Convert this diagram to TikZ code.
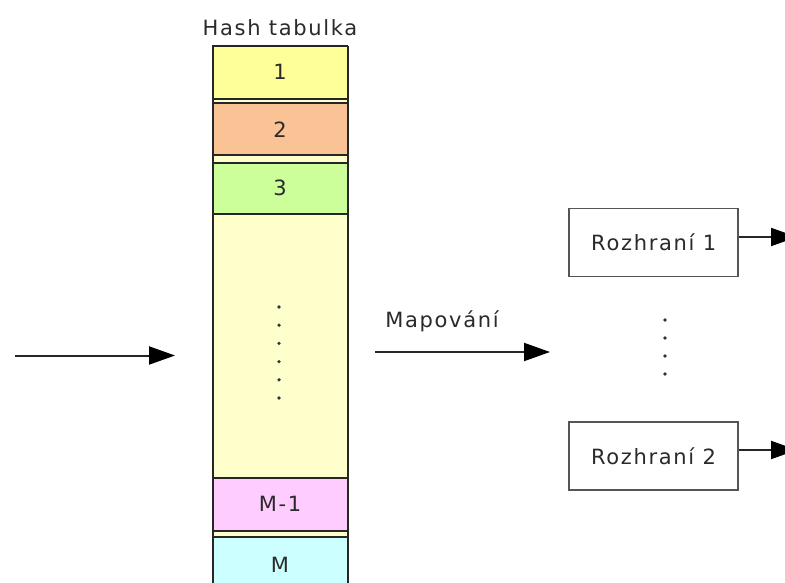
\documentclass[tikz,border=0pt]{standalone}
\usepackage{fontspec}
\setmainfont{DejaVu Sans}[LetterSpace=8]
\usetikzlibrary{arrows.meta}
\definecolor{cellA}{HTML}{FFFF99}
\definecolor{cellB}{HTML}{FAC396}
\definecolor{cellC}{HTML}{CCFF99}
\definecolor{cellMid}{HTML}{FFFFCC}
\definecolor{cellD}{HTML}{FFCCFF}
\definecolor{cellE}{HTML}{CCFFFF}
\definecolor{ink}{HTML}{2A2A2A}
\definecolor{frame}{HTML}{555555}
\tikzset{
  x=1pt, y=-1pt,
  lbl/.style={text=ink, font=\fontsize{21}{24}\selectfont},
  cell/.style={draw=black!85, line width=1.9pt, minimum width=135pt, inner sep=0pt, lbl},
  iface/.style={draw=frame, line width=1.9pt, fill=white, minimum width=169pt, minimum height=68pt, inner sep=0pt, lbl},
  flow/.style={draw=black!85, line width=2pt, -{Triangle[length=26pt,width=18pt,color=black]}},
  dot/.style={fill=black!80, circle, inner sep=0pt, minimum size=3.6pt},
}
\begin{document}
\begin{tikzpicture}
\clip (0,0) rectangle (785,583);
\fill[white] (0,0) rectangle (785,583);

% table column background (visible in the thin gaps between slots)
\fill[cellMid] (212.7,46) rectangle (347.7,600);

\node[lbl] (title) at (280,28) {Hash tabulka};

\node[cell, fill=cellA,   minimum height=52.7pt] (s1)  at (280,72.3)  {1};
\node[cell, fill=cellB,   minimum height=52pt]   (s2)  at (280,129.3) {2};
\node[cell, fill=cellC,   minimum height=51.3pt] (s3)  at (280,188.3) {3};
\node[cell, fill=cellMid, minimum height=264pt]  (mid) at (280,346)   {};
\node[cell, fill=cellD,   minimum height=52.7pt] (sm1) at (280,504.3) {M-1};
\node[cell, fill=cellE,   minimum height=56pt]   (sm)  at (280,565)   {M};
\draw[black!85, line width=1.9pt] (212.7,46) -- (212.7,600) (347.7,46) -- (347.7,600);

% ellipsis inside the table
\foreach \k in {0,...,5}
  \node[dot] (td\k) at (279,{307+18.2*\k}) {};

% incoming key
\coordinate (inA) at (15,355.5);
\coordinate (inB) at (175,355.5);
\draw[flow] (inA) -- (inB);

% mapping
\coordinate (mapA) at (375,352);
\coordinate (mapB) at (550,352);
\draw[flow] (mapA) -- (mapB);
\node[lbl, anchor=base] (maplbl) at (442,327) {Mapování};

% interfaces
\node[iface] (r1) at (653.7,242.5) {Rozhraní 1};
\node[iface] (r2) at (653.5,456)   {Rozhraní 2};
\foreach \k in {0,...,3}
  \node[dot] (rd\k) at (665,{320+18*\k}) {};

\coordinate (o1) at (797,237);
\coordinate (o2) at (797,450);
\draw[flow] (r1.east |- o1) -- (o1);
\draw[flow] (r2.east |- o2) -- (o2);
\end{tikzpicture}
\end{document}
